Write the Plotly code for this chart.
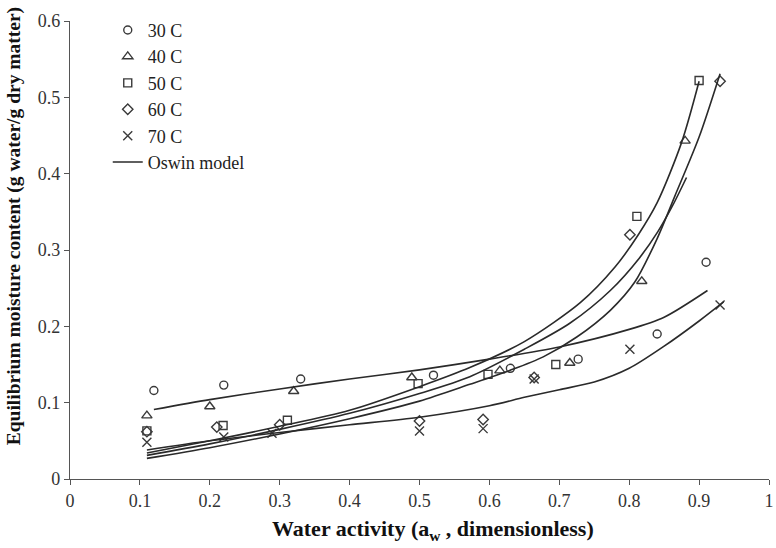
import plotly.graph_objects as go

aw_30 = [0.12, 0.22, 0.33, 0.52, 0.63, 0.727, 0.84, 0.91]
m_30 = [0.116, 0.123, 0.131, 0.136, 0.145, 0.157, 0.190, 0.284]

aw_40 = [0.11, 0.20, 0.32, 0.489, 0.615, 0.715, 0.818, 0.88]
m_40 = [0.083, 0.095, 0.115, 0.133, 0.142, 0.152, 0.259, 0.443]

aw_50 = [0.11, 0.219, 0.311, 0.498, 0.598, 0.695, 0.811, 0.90]
m_50 = [0.063, 0.070, 0.077, 0.125, 0.137, 0.150, 0.344, 0.522]

aw_60 = [0.11, 0.21, 0.30, 0.50, 0.591, 0.664, 0.801, 0.93]
m_60 = [0.062, 0.068, 0.071, 0.076, 0.078, 0.133, 0.320, 0.521]

aw_70 = [0.11, 0.22, 0.289, 0.50, 0.591, 0.664, 0.801, 0.93]
m_70 = [0.048, 0.055, 0.060, 0.063, 0.066, 0.131, 0.170, 0.228]

# ---- Oswin model curves ----
fit30_x = [0.12, 0.2, 0.3, 0.4, 0.5, 0.6, 0.7, 0.8, 0.85, 0.912]
fit30_y = [0.091, 0.104, 0.118, 0.131, 0.143, 0.157, 0.173, 0.196, 0.212, 0.247]

fit40_x = [0.11, 0.2, 0.3, 0.4, 0.5, 0.572, 0.65, 0.715, 0.773, 0.815, 0.841, 0.862, 0.882]
fit40_y = [0.031, 0.046, 0.065, 0.086, 0.112, 0.134, 0.170, 0.204, 0.247, 0.290, 0.324, 0.358, 0.395]

fit50_x = [0.11, 0.2, 0.3, 0.4, 0.5, 0.572, 0.65, 0.73, 0.78, 0.813, 0.84, 0.875, 0.90]
fit50_y = [0.034, 0.050, 0.069, 0.090, 0.121, 0.146, 0.180, 0.231, 0.278, 0.320, 0.362, 0.441, 0.521]

fit60_x = [0.11, 0.2, 0.3, 0.4, 0.5, 0.572, 0.63, 0.677, 0.725, 0.773, 0.808, 0.84, 0.865, 0.90, 0.93]
fit60_y = [0.027, 0.041, 0.059, 0.079, 0.102, 0.124, 0.1425, 0.160, 0.186, 0.221, 0.258, 0.315, 0.370, 0.448, 0.531]

fit70_x = [0.11, 0.2, 0.3, 0.4, 0.5, 0.6, 0.65, 0.7, 0.75, 0.8, 0.85, 0.9, 0.935]
fit70_y = [0.038, 0.050, 0.061, 0.071, 0.081, 0.096, 0.107, 0.117, 0.127, 0.145, 0.174, 0.207, 0.232]

x_ticks = [0, 0.1, 0.2, 0.3, 0.4, 0.5, 0.6, 0.7, 0.8, 0.9, 1]
x_tick_labels = ["0", "0.1", "0.2", "0.3", "0.4", "0.5", "0.6", "0.7", "0.8", "0.9", "1"]
y_ticks = [0, 0.1, 0.2, 0.3, 0.4, 0.5, 0.6]
y_tick_labels = ["0", "0.1", "0.2", "0.3", "0.4", "0.5", "0.6"]

x_title = "<b>Water activity (a<sub>w</sub> , dimensionless)</b>"
y_title = "<b>Equilibrium moisture content (g water/g dry matter)</b>"

MCOL = "#3a3a3a"
LCOL = "#2a2a2a"
FONT = "Liberation Serif"

fig = go.Figure()

series = [
    ("30 C", aw_30, m_30, "circle-open", 8),
    ("40 C", aw_40, m_40, "triangle-up-open", 9),
    ("50 C", aw_50, m_50, "square-open", 8),
    ("60 C", aw_60, m_60, "diamond-open", 8),
    ("70 C", aw_70, m_70, "x-thin-open", 9),
]
for name, xs, ys, sym, sz in series:
    fig.add_trace(go.Scatter(
        x=xs, y=ys, mode="markers", name=name,
        marker=dict(symbol=sym, size=sz, color=MCOL, line=dict(width=1.4, color=MCOL)),
    ))

fits = [(fit30_x, fit30_y), (fit40_x, fit40_y), (fit50_x, fit50_y),
        (fit60_x, fit60_y), (fit70_x, fit70_y)]
for i, (fx, fy) in enumerate(fits):
    fig.add_trace(go.Scatter(
        x=fx, y=fy, mode="lines", name="Oswin model",
        line=dict(color=LCOL, width=1.6, shape="spline", smoothing=0.8),
        showlegend=(i == 0),
    ))

fig.update_layout(
    width=776, height=548,
    margin=dict(l=70, r=7, t=21, b=69, autoexpand=False),
    paper_bgcolor="white", plot_bgcolor="white",
    font=dict(family=FONT, size=18, color="#222"),
    showlegend=True,
    legend=dict(
        x=0.054, y=1.02, xanchor="left", yanchor="top",
        bgcolor="rgba(0,0,0,0)", font=dict(family=FONT, size=18, color="#222"),
    ),
    xaxis=dict(
        range=[0, 1], tickvals=x_ticks, ticktext=x_tick_labels, automargin=False,
        showgrid=False, zeroline=False, showline=True, linecolor="#555", linewidth=1.2,
        ticks="outside", ticklen=5, tickcolor="#555", tickfont=dict(family=FONT, size=18, color="#333"),
    ),
    yaxis=dict(
        range=[0, 0.6], tickvals=y_ticks, ticktext=y_tick_labels, automargin=False,
        showgrid=False, zeroline=False, showline=True, linecolor="#555", linewidth=1.2,
        ticks="outside", ticklen=5, tickcolor="#555", tickfont=dict(family=FONT, size=18, color="#333"),
    ),
    annotations=[
        dict(text=x_title, xref="paper", yref="paper", x=0.519, y=-0.112,
             xanchor="center", yanchor="middle", showarrow=False,
             font=dict(family=FONT, size=22, color="#111")),
        dict(text=y_title, xref="paper", yref="paper", x=-0.080, y=0.552,
             xanchor="center", yanchor="middle", showarrow=False, textangle=-90,
             font=dict(family=FONT, size=19.5, color="#111")),
    ],
)

fig.write_html("out.html", config={"displayModeBar": False},
               post_script="document.body.style.margin='0';")
